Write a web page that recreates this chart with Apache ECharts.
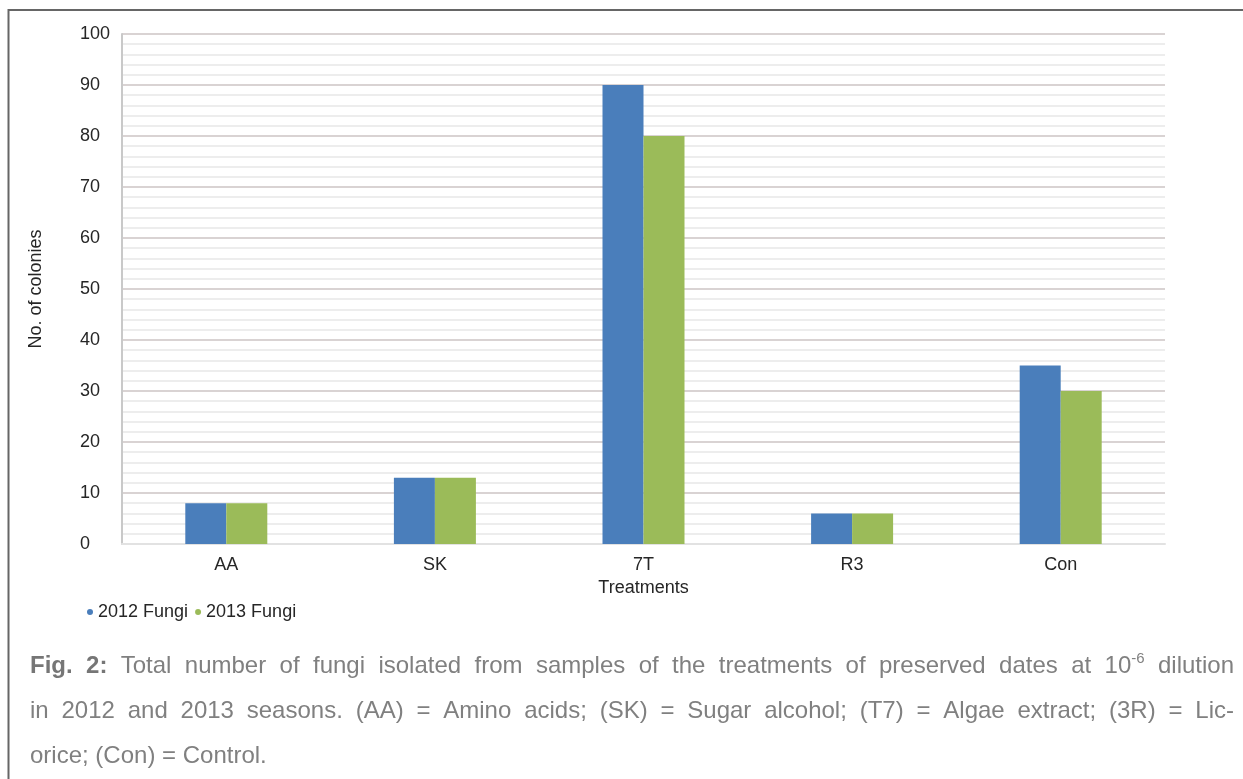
<!DOCTYPE html>
<html>
<head>
<meta charset="utf-8">
<script src="https://cdn.jsdelivr.net/npm/echarts@6/dist/echarts.min.js"></script>
<style>
html,body{margin:0;padding:0;background:#fff;}
#chart{width:1243px;height:779px;}
</style>
</head>
<body>
<div id="chart"></div>
<script>
const categories = ['AA', 'SK', '7T', 'R3', 'Con'];
const fungi2012 = [8, 13, 90, 6, 35];
const fungi2013 = [8, 13, 80, 6, 30];
const seriesNames = ['2012 Fungi', '2013 Fungi'];
const yMin = 0, yMax = 100, yStep = 10;
const xAxisTitle = 'Treatments';
const yAxisTitle = 'No. of colonies';
const captionLines = [
  [{t:'Fig.', b:true}, {t:'2:', b:true}, 'Total', 'number', 'of', 'fungi', 'isolated', 'from', 'samples', 'of', 'the', 'treatments', 'of', 'preserved', 'dates', 'at', {t:'10', sup:'-6'}, 'dilution'],
  ['in', '2012', 'and', '2013', 'seasons.', '(AA)', '=', 'Amino', 'acids;', '(SK)', '=', 'Sugar', 'alcohol;', '(T7)', '=', 'Algae', 'extract;', '(3R)', '=', 'Lic-'],
  ['orice;', '(Con)', '=', 'Control.']
];

const FONT = '"Liberation Sans", Arial, sans-serif';
const CAP_SIZE = 24, SUP_SIZE = 15;
const capColor = '#808080', figColor = '#767676';
const capX0 = 30, capX1 = 1234;
const capY = [666, 711, 756];

const mctx = document.createElement('canvas').getContext('2d');
function measure(txt, size, bold) {
  mctx.font = (bold ? 'bold ' : '') + size + 'px ' + FONT;
  return mctx.measureText(txt).width;
}

const graphics = [];
// frame
graphics.push({
  type: 'polyline', silent: true,
  shape: { points: [[8.5, 779], [8.5, 10], [1243, 10]] },
  style: { stroke: '#666', lineWidth: 2, fill: null }
});

captionLines.forEach((words, li) => {
  const items = words.map(w => {
    if (typeof w === 'string') w = { t: w };
    let width = measure(w.t, CAP_SIZE, w.b);
    if (w.sup) width += measure(w.sup, SUP_SIZE, false);
    return Object.assign({ w: width }, w);
  });
  const total = items.reduce((s, it) => s + it.w, 0);
  const justify = li < captionLines.length - 1;
  const gap = justify ? (capX1 - capX0 - total) / (items.length - 1) : measure(' ', CAP_SIZE, false);
  let x = capX0;
  items.forEach(it => {
    graphics.push({
      type: 'text', silent: true, x: x, y: capY[li],
      style: {
        text: it.t, font: (it.b ? 'bold ' : '') + CAP_SIZE + 'px ' + FONT,
        fill: it.b ? figColor : capColor, verticalAlign: 'middle', align: 'left'
      }
    });
    if (it.sup) {
      const sx = x + measure(it.t, CAP_SIZE, it.b);
      graphics.push({
        type: 'text', silent: true, x: sx, y: capY[li] - 7,
        style: { text: it.sup, font: SUP_SIZE + 'px ' + FONT, fill: capColor, verticalAlign: 'middle', align: 'left' }
      });
    }
    x += it.w + gap;
  });
});

const chart = echarts.init(document.getElementById('chart'), null, { renderer: 'canvas' });
chart.setOption({
  animation: false,
  backgroundColor: '#fff',
  textStyle: { fontFamily: FONT },
  grid: { left: 122, right: 78, top: 34, bottom: 235, containLabel: false },
  legend: {
    left: 82, top: 598, icon: 'circle', itemWidth: 6, itemHeight: 6, itemGap: 7,
    textStyle: { fontSize: 18, color: '#262626', fontFamily: FONT },
    data: seriesNames
  },
  xAxis: {
    type: 'category', data: categories,
    name: xAxisTitle, nameLocation: 'middle', nameGap: 25,
    nameTextStyle: { fontSize: 18, color: '#262626', fontFamily: FONT },
    axisLine: { show: true, lineStyle: { color: '#e2e2e2', width: 2 } },
    axisTick: { show: false },
    axisLabel: { fontSize: 18, color: '#262626', margin: 12, fontFamily: FONT }
  },
  yAxis: {
    type: 'value', min: yMin, max: yMax, interval: yStep,
    name: yAxisTitle, nameLocation: 'middle', nameGap: 77, nameRotate: 90,
    nameTextStyle: { fontSize: 18, color: '#262626', fontFamily: FONT },
    axisLine: { show: true, lineStyle: { color: '#c9c9c9', width: 2 } },
    axisTick: { show: false },
    axisLabel: { fontSize: 18, color: '#262626', align: 'left', margin: 42, fontFamily: FONT },
    splitLine: { show: true, lineStyle: { color: '#d9d3d3', width: 2 } },
    minorTick: { show: false, splitNumber: 5 },
    minorSplitLine: { show: true, lineStyle: { color: '#ededed', width: 2 } }
  },
  series: [
    { name: seriesNames[0], type: 'bar', data: fungi2012, barWidth: 41, barGap: '0%',
      itemStyle: { color: '#4a7ebb' } },
    { name: seriesNames[1], type: 'bar', data: fungi2013, barWidth: 41, barGap: '0%',
      itemStyle: { color: '#9bbb59' } }
  ],
  graphic: graphics
});
</script>
</body>
</html>
